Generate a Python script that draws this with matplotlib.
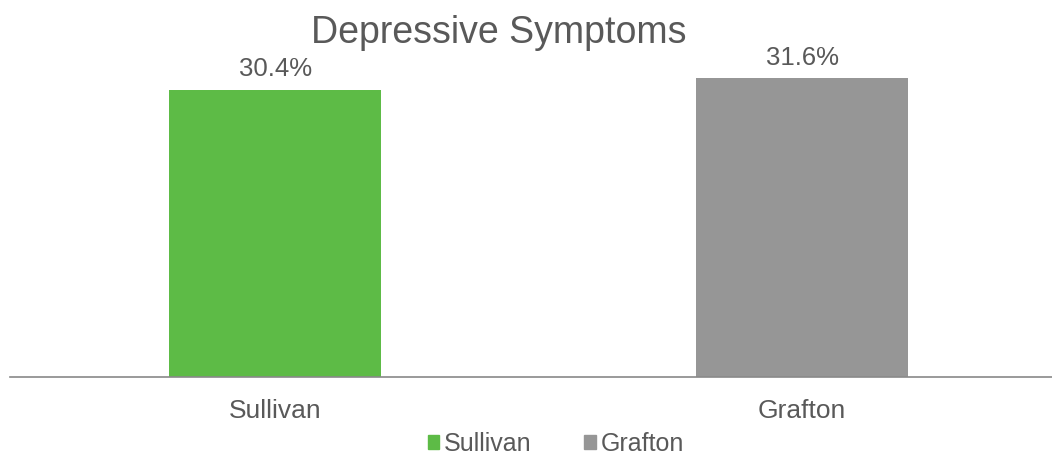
import matplotlib.pyplot as plt
from matplotlib.patches import Patch

plt.rcParams['font.family'] = ['Liberation Sans', 'DejaVu Sans']

categories = ['Sullivan', 'Grafton']
values = [30.4, 31.6]
labels = ['30.4%', '31.6%']
colors = ['#5DBB46', '#969696']
text_color = '#595959'

fig = plt.figure(figsize=(10.52, 4.55), dpi=100)
ax = fig.add_axes([10 / 1052, 1 - 377 / 455, 1042 / 1052, 331 / 455])

x = list(range(len(categories)))
bars = ax.bar(x, values, width=0.402, color=colors)
for b, lab in zip(bars, labels):
    ax.annotate(lab, (b.get_x() + b.get_width() / 2, b.get_height()),
                textcoords='offset points', xytext=(0, 6), ha='center', va='bottom',
                fontsize=18.5, color=text_color)

ax.set_xlim(-0.503, 1.474)
ax.set_ylim(0, 35)
ax.set_xticks(x)
ax.set_xticklabels(categories, fontsize=19, color=text_color)
ax.tick_params(axis='x', length=0, pad=16)
ax.set_yticks([])
for s in ['top', 'right', 'left']:
    ax.spines[s].set_visible(False)
ax.spines['bottom'].set_color('#898989')
ax.spines['bottom'].set_linewidth(1.2)

fig.text(499 / 1052, 1 - 33 / 455, 'Depressive Symptoms', ha='center', va='center',
         fontsize=27, color=text_color)

handles = [Patch(color=c, label=n) for c, n in zip(colors, categories)]
fig.legend(handles=handles, loc='center', bbox_to_anchor=(556 / 1052, 1 - 444 / 455),
           ncol=2, frameon=False, fontsize=18, labelcolor=text_color,
           handlelength=0.45, handleheight=0.45, handletextpad=0.2, columnspacing=2.1,
           borderpad=0)

fig.savefig('out.png', dpi=100)
